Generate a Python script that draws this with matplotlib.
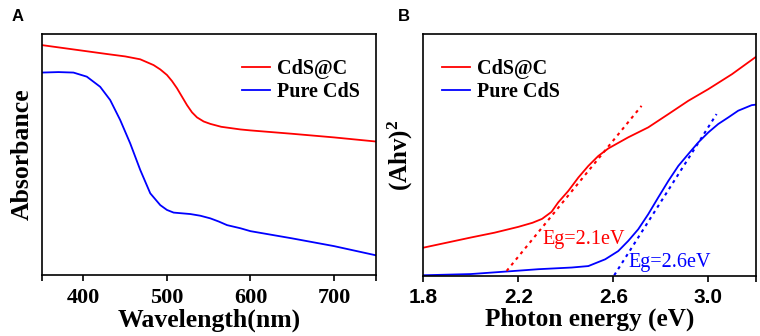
import numpy as np
import matplotlib
matplotlib.use("Agg")
import matplotlib.pyplot as plt

plt.rcParams['mathtext.default'] = 'regular'

# ---- Panel A data: absorbance (normalized units) ----
wl_red = [350, 388, 428, 450, 468, 484, 492, 500, 506, 512, 518, 524, 530, 536, 544,
          552, 565, 588, 600, 650, 700, 750]
abs_red = [0.954, 0.936, 0.917, 0.907, 0.895, 0.871, 0.853, 0.830, 0.805, 0.775,
           0.740, 0.705, 0.675, 0.654, 0.637, 0.627, 0.615, 0.604, 0.600, 0.586,
           0.571, 0.554]
wl_blue = [350, 370, 388, 404, 420, 432, 444, 456, 468, 480, 492, 500, 508, 528,
           540, 552, 562, 572, 588, 600, 650, 700, 750]
abs_blue = [0.840, 0.842, 0.840, 0.823, 0.781, 0.726, 0.643, 0.546, 0.436, 0.339,
            0.290, 0.270, 0.259, 0.253, 0.246, 0.235, 0.222, 0.207, 0.194, 0.182,
            0.152, 0.120, 0.082]

# ---- Panel B data: (Ahv)^2 (normalized units) ----
e_red = [1.8, 1.9, 2.0, 2.1, 2.2, 2.26, 2.30, 2.34, 2.368, 2.411, 2.453, 2.495, 2.537,
         2.579, 2.663, 2.747, 2.832, 2.916, 3.0, 3.1, 3.2]
t_red = [0.117, 0.138, 0.159, 0.179, 0.203, 0.220, 0.236, 0.265, 0.304, 0.352, 0.407,
         0.455, 0.496, 0.527, 0.573, 0.614, 0.669, 0.724, 0.772, 0.834, 0.905]
e_blue = [1.8, 2.0, 2.2, 2.284, 2.425, 2.495, 2.566, 2.621, 2.663, 2.705, 2.747,
          2.789, 2.832, 2.874, 2.916, 2.958, 3.0, 3.042, 3.084, 3.126, 3.183, 3.2]
t_blue = [0.003, 0.008, 0.022, 0.028, 0.035, 0.041, 0.069, 0.103, 0.145, 0.193,
          0.255, 0.324, 0.393, 0.455, 0.504, 0.552, 0.593, 0.628, 0.655, 0.683,
          0.706, 0.708]
fit_red_x = [2.151, 2.719]
fit_red_y = [0.021, 0.703]
fit_blue_x = [2.604, 3.035]
fit_blue_y = [0.003, 0.669]

labels = ["CdS@C", "Pure CdS"]
xticks_a = [350, 400, 500, 600, 700, 750]
xticklabels_a = ["", "400", "500", "600", "700", ""]
xticks_b = [1.8, 2.2, 2.6, 3.0, 3.2]
xticklabels_b = ["1.8", "2.2", "2.6", "3.0", ""]

SERIF = "Liberation Serif"
SANS = "Liberation Sans"

fig = plt.figure(figsize=(7.6, 3.36), dpi=100)
axA = fig.add_axes([0.0549, 0.1815, 0.4394, 0.7173])
axB = fig.add_axes([0.557, 0.1786, 0.4374, 0.7202])

for ax in (axA, axB):
    for s in ax.spines.values():
        s.set_linewidth(1.2)
    ax.set_yticks([])
    ax.tick_params(axis='x', direction='out', length=4, width=1.2)

# Panel A
axA.plot(wl_red, abs_red, color='red', lw=1.3, label=labels[0])
axA.plot(wl_blue, abs_blue, color='blue', lw=1.3, label=labels[1])
axA.set_xlim(350, 750)
axA.set_ylim(0, 1)
axA.set_xticks(xticks_a)
axA.set_xticklabels(xticklabels_a, fontfamily=SERIF, fontweight='bold', fontsize=16)
axA.tick_params(axis='x', pad=5.5)
axA.set_xlabel("Wavelength(nm)", fontfamily=SERIF, fontweight='bold', fontsize=18.5, labelpad=0)
axA.set_ylabel("Absorbance", fontfamily=SERIF, fontweight='bold', fontsize=18.5, labelpad=6)
axA.legend(loc='upper left', frameon=False, prop={'family': SERIF, 'weight': 'bold', 'size': 14.5},
           handlelength=1.4, handletextpad=0.35, labelspacing=0.15,
           bbox_to_anchor=(0.6, 0.895), borderaxespad=0, borderpad=0)
fig.text(0.0158, 0.952, "A", fontfamily=SANS, fontweight='bold', fontsize=12, va='center')

# Panel B
axB.plot(e_red, t_red, color='red', lw=1.3, label=labels[0])
axB.plot(e_blue, t_blue, color='blue', lw=1.3, label=labels[1])
axB.plot(fit_red_x, fit_red_y, color='red', lw=1.5, linestyle=(0, (1.5, 2)))
axB.plot(fit_blue_x, fit_blue_y, color='blue', lw=1.5, linestyle=(0, (1.5, 2)))
axB.text(2.30, 0.152, "Eg=2.1eV", color='red', fontfamily=SERIF, fontsize=14.5, va='center')
axB.text(2.665, 0.057, "Eg=2.6eV", color='blue', fontfamily=SERIF, fontsize=14.5, va='center')
axB.set_xlim(1.8, 3.2)
axB.set_ylim(0, 1)
axB.set_xticks(xticks_b)
axB.set_xticklabels(xticklabels_b, fontfamily=SANS, fontweight='bold', fontsize=15)
axB.tick_params(axis='x', pad=5)
axB.set_xlabel("Photon energy (eV)", fontfamily=SERIF, fontweight='bold', fontsize=18.2, labelpad=0)
axB.set_ylabel("(Ahv)$^{2}$", fontfamily=SERIF, fontweight='bold', fontsize=18, labelpad=6)
axB.legend(loc='upper left', frameon=False, prop={'family': SERIF, 'weight': 'bold', 'size': 14.5},
           handlelength=1.4, handletextpad=0.35, labelspacing=0.15,
           bbox_to_anchor=(0.056, 0.895), borderaxespad=0, borderpad=0)
fig.text(0.5237, 0.952, "B", fontfamily=SANS, fontweight='bold', fontsize=12, va='center')

fig.savefig("out.png", dpi=100)
